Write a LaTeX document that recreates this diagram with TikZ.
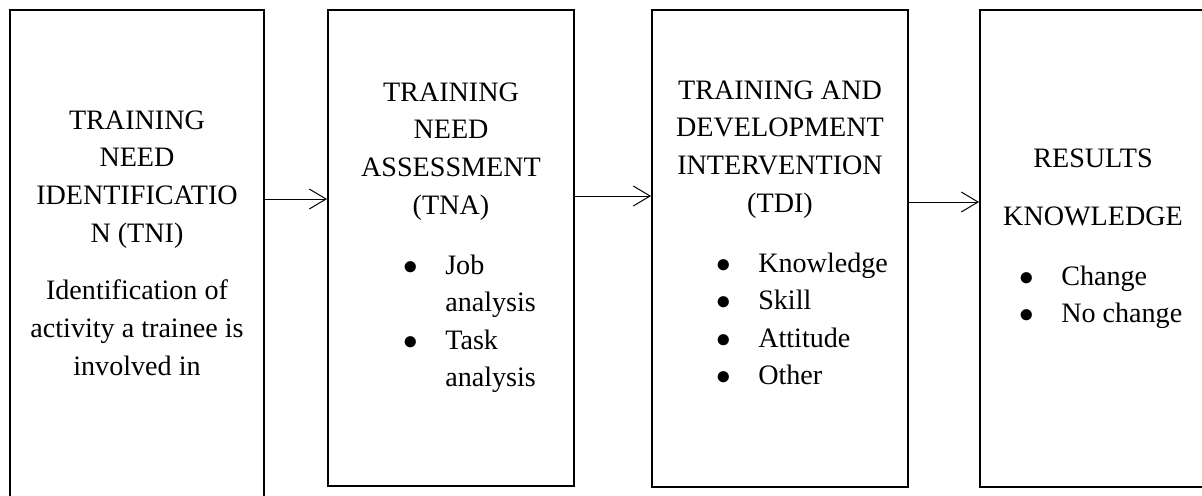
\documentclass[tikz,border=0pt]{standalone}
\usepackage{fontspec}
\setmainfont{Liberation Serif}
\usetikzlibrary{arrows.meta,positioning}

\begin{document}
\begin{tikzpicture}[
    stage/.style={draw, rectangle, line width=1.4pt, inner sep=0pt, minimum height=11.925cm},
    heading/.style={align=center, anchor=base, inner sep=0pt, font=\fontsize{20}{26.7}\selectfont},
    bullets/.style={anchor=base west, inner sep=0pt, font=\fontsize{20}{26.7}\selectfont},
    flow/.style={-{Straight Barb[length=4.2mm, width=5mm]}, line width=0.7pt}
]
\useasboundingbox (0,0) rectangle (30.05,-12.375);
\clip (0,0) rectangle (30.05,-12.375);

% Stage boxes
\node[stage, minimum width=6.35cm, minimum height=12.75cm] (tni) at (3.425, -6.625) {};
\node[stage, minimum width=6.15cm, minimum height=11.9cm] (tna) at (11.275, -6.2) {};
\node[stage, minimum width=6.4cm] (tdi) at (19.5, -6.2125) {};
\node[stage, minimum width=5.65cm] (res) at (27.325, -6.2125) {};

% Stage 1: identification (anchored on the last line)
\node[heading] (tnititle) at (3.425, -6.05) {TRAINING\\NEED\\IDENTIFICATIO\\N (TNI)};
\node[heading] (tnitext) at (3.425, -9.375) {Identification of\\activity a trainee is\\involved in};

% Stage 2: assessment
\node[heading] (tnatitle) at (11.275, -5.35) {TRAINING\\NEED\\ASSESSMENT\\(TNA)};
\node[bullets] (tnalist) at (10.075, -6.85) {\begin{tabular}[t]{@{}p{1.05cm}@{}l@{}}
    $\bullet$ & Job\\ & analysis\\ $\bullet$ & Task\\ & analysis\end{tabular}};

% Stage 3: intervention
\node[heading] (tdititle) at (19.5, -5.3) {TRAINING AND\\DEVELOPMENT\\INTERVENTION\\(TDI)};
\node[bullets] (tdilist) at (17.9, -6.8) {\begin{tabular}[t]{@{}p{1.05cm}@{}l@{}}
    $\bullet$ & Knowledge\\ $\bullet$ & Skill\\ $\bullet$ & Attitude\\ $\bullet$ & Other\end{tabular}};

% Stage 4: results
\node[heading] (restitle) at (27.325, -4.175) {RESULTS};
\node[heading] (reskind) at (27.325, -5.625) {KNOWLEDGE};
\node[bullets] (reslist) at (25.475, -7.125) {\begin{tabular}[t]{@{}p{1.05cm}@{}l@{}}
    $\bullet$ & Change\\ $\bullet$ & No change\end{tabular}};

% Arrows
\draw[flow] (tni.east |- 0,-4.975) -- (tna.west |- 0,-4.975);
\draw[flow] (tna.east |- 0,-4.9) -- (tdi.west |- 0,-4.9);
\draw[flow] (tdi.east |- 0,-5.05) -- (res.west |- 0,-5.05);

\end{tikzpicture}
\end{document}
